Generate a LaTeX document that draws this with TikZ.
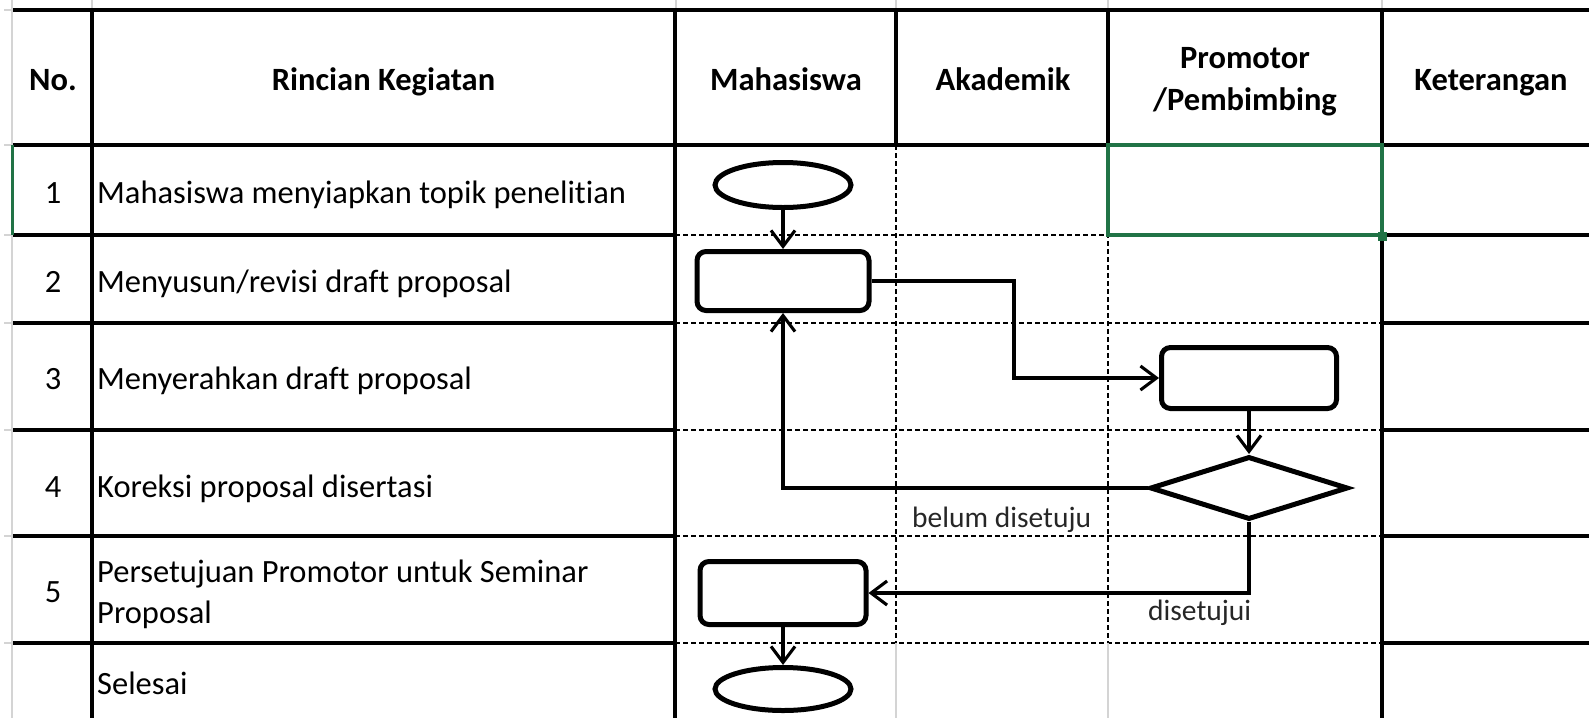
\documentclass[tikz,border=0pt]{standalone}
\usepackage{fontspec}
\setmainfont{Carlito}[Ligatures=NoCommon]
\usetikzlibrary{arrows.meta,shapes.geometric,calc}
\definecolor{selgreen}{RGB}{33,115,70}
\definecolor{gridgray}{RGB}{212,212,212}
\begin{document}
\begin{tikzpicture}[x=1pt,y=-1pt,
  tline/.style={line width=3.6pt},
  dline/.style={line width=1.6pt, dash pattern=on 5pt off 3pt},
  gline/.style={line width=1.5pt, gridgray},
  flow/.style={draw, line width=5pt, inner sep=0pt, fill=white},
  term/.style={flow, ellipse, minimum width=136pt, minimum height=45pt},
  proc/.style={flow, rectangle, rounded corners=9pt},
  dec/.style={flow, diamond, minimum width=198pt, minimum height=63pt},
  conn/.style={line width=3.1pt, -{Straight Barb[length=16pt,width=24pt]}},
  hd/.style={font=\fontsize{32.5}{42}\selectfont\bfseries, anchor=base, inner sep=0pt, align=center},
  txt/.style={font=\fontsize{32.5}{41}\selectfont, anchor=base west, inner sep=0pt, align=left},
  num/.style={font=\fontsize{32.5}{38}\selectfont, anchor=base, inner sep=0pt},
  lbl/.style={font=\fontsize{29.5}{35}\selectfont, text=black!85, anchor=base west, inner sep=0pt}
]
\useasboundingbox (0,0) rectangle (1589,718);
% Excel grid ticks
\draw[gline, line width=2.5pt] (12,0) -- (12,718);
\foreach \x in {92,676,896,1108,1382} \draw[gline] (\x,0) -- (\x,10);
\foreach \y in {10,145,235,323,430,536,643} \draw[gline] (4,\y) -- (12,\y);
% table horizontal lines
\draw[tline] (13,10) -- (1589,10);
\draw[tline] (13,145) -- (1589,145);
\foreach \y in {235,323,430,536,643} {
  \draw[tline] (13,\y) -- (675,\y);
  \draw[dline] (675,\y) -- (1382,\y);
  \draw[tline] (1382,\y) -- (1589,\y);
}
% table vertical lines
\draw[tline] (92,10) -- (92,718);
\draw[tline] (675,10) -- (675,718);
\draw[tline] (1382,10) -- (1382,718);
\foreach \x in {896,1108} {
  \draw[tline] (\x,10) -- (\x,145);
  \draw[dline] (\x,145) -- (\x,643);
  \draw[gline] (\x,643) -- (\x,718);
}
% selection
\draw[selgreen, line width=3pt] (12,145) -- (12,235);
\draw[selgreen, line width=3.2pt] (1108,145) rectangle (1382,235);
\node[fill=selgreen, minimum size=9pt, inner sep=0pt] (handle) at (1382,236) {};
% header
\node[hd] (hNo) at (53,90) {No.};
\node[hd] (hRin) at (383.5,90) {Rincian Kegiatan};
\node[hd] (hMah) at (786,90) {Mahasiswa};
\node[hd] (hAka) at (1003,90) {Akademik};
\node[hd] (hPro) at (1245,110) {Promotor\\/Pembimbing};
\node[hd] (hKet) at (1491,90) {Keterangan};
% rows
\node[num] (n1) at (53,203) {1};
\node[num] (n2) at (53,292) {2};
\node[num] (n3) at (53,389) {3};
\node[num] (n4) at (53,497) {4};
\node[num] (n5) at (53,602) {5};
\node[txt] (t1) at (97,203) {Mahasiswa menyiapkan topik penelitian};
\node[txt] (t2) at (97,292) {Menyusun/revisi draft proposal};
\node[txt] (t3) at (97,389) {Menyerahkan draft proposal};
\node[txt] (t4) at (97,497) {Koreksi proposal disertasi};
\node[txt] (t5) at (97,623) {Persetujuan Promotor untuk Seminar\\Proposal};
\node[txt] (t6) at (97,694) {Selesai};
% flow shapes
\node[term] (e1) at (783,185) {};
\node[proc, minimum width=172pt, minimum height=59pt] (r1) at (783,281) {};
\node[proc, minimum width=175pt, minimum height=61pt] (r2) at (1249,378) {};
\node[dec] (d) at (1249,488) {};
\node[proc, minimum width=166pt, minimum height=63pt] (r3) at (783,593) {};
\node[term, minimum height=43pt] (e2) at (783,689) {};
\coordinate (j1) at (1014,0);
% connectors
\draw[conn] (e1.south) -- (r1.north);
\draw[conn] (r1.east) -- (r1.east -| j1) |- (r2.west);
\draw[conn] (r2.south) -- (d.north);
\draw[conn] (d.west) -| (r1.south);
\draw[conn] (d.south) |- (r3.east);
\draw[conn] (r3.south) -- (e2.north);
% labels
\node[lbl] (lb1) at (912,527) {belum disetuju};
\node[lbl] (lb2) at (1148,620) {disetujui};
\end{tikzpicture}
\end{document}
